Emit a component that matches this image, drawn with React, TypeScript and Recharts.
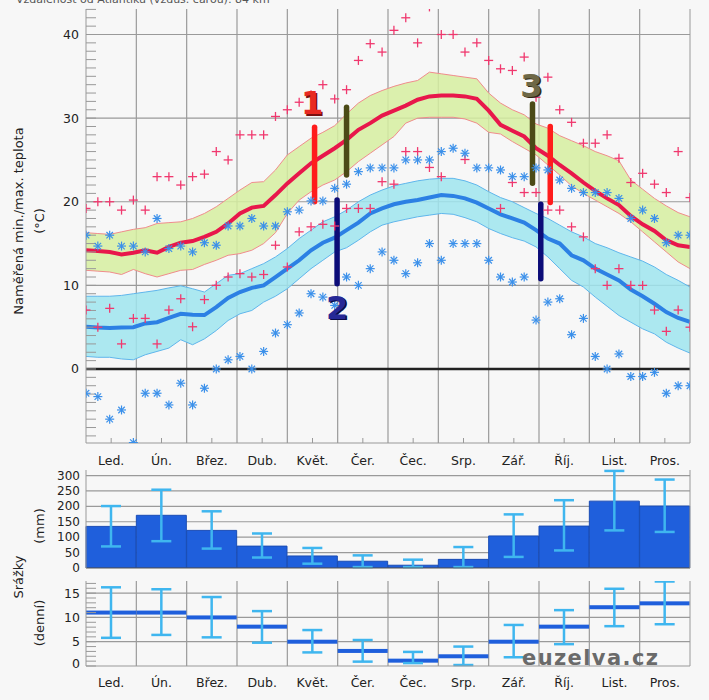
import React from "react";
import {
  Area,
  Bar,
  CartesianGrid,
  ComposedChart,
  ErrorBar,
  Line,
  ReferenceLine,
  Scatter,
  XAxis,
  YAxis,
} from "recharts";

const MONTHS = ["Led.", "Ún.", "Břez.", "Dub.", "Květ.", "Čer.", "Čec.", "Srp.", "Zář.", "Říj.", "List.", "Pros."];

// weekly values (52 weeks), °C
const maxMean = [14.2, 14.1, 14.0, 13.7, 13.9, 14.2, 13.9, 14.6, 15.1, 15.3, 15.8, 16.4, 17.4, 18.6, 19.3, 19.5, 20.8, 22.2, 23.4, 24.6, 25.5, 26.4, 27.4, 28.6, 29.4, 30.3, 30.9, 31.5, 32.2, 32.6, 32.7, 32.7, 32.6, 32.3, 30.9, 29.2, 28.5, 27.8, 26.4, 25.5, 24.4, 23.4, 22.3, 21.3, 20.4, 19.6, 18.3, 17.3, 16.5, 15.4, 14.8, 14.6];
const maxHi = [16.3, 16.2, 16.1, 16.4, 16.7, 16.9, 17.4, 17.5, 17.6, 18.0, 18.6, 19.4, 20.4, 21.4, 22.3, 22.4, 23.8, 25.6, 26.6, 27.6, 28.3, 29.1, 30.5, 31.8, 32.7, 33.3, 33.8, 34.2, 34.5, 35.5, 35.3, 35.1, 34.9, 34.7, 33.0, 31.8, 31.0, 30.4, 29.3, 28.8, 27.9, 27.3, 26.7, 26.0, 25.5, 24.9, 22.6, 21.5, 20.4, 19.5, 18.7, 18.2];
const maxLo = [11.8, 11.7, 11.6, 11.3, 11.9, 11.4, 11.0, 11.4, 11.8, 11.9, 12.5, 13.0, 13.6, 13.8, 14.2, 15.0, 16.3, 18.6, 20.2, 21.2, 22.0, 22.6, 23.6, 24.8, 25.8, 26.8, 27.8, 29.4, 30.0, 30.1, 30.1, 30.1, 29.9, 29.4, 28.3, 28.1, 27.2, 26.4, 25.6, 24.4, 23.2, 21.9, 21.0, 20.2, 19.4, 18.6, 17.6, 16.4, 15.2, 14.0, 12.8, 12.0];
const minMean = [5.05, 4.95, 4.9, 4.95, 5.0, 5.45, 5.6, 6.1, 6.6, 6.5, 6.45, 7.4, 8.5, 9.2, 9.7, 10.0, 11.0, 12.0, 13.0, 14.2, 15.1, 15.7, 16.6, 17.5, 18.6, 19.2, 19.7, 20.0, 20.2, 20.5, 20.8, 20.7, 20.4, 19.9, 19.2, 18.5, 18.0, 17.5, 16.6, 15.6, 15.0, 13.6, 13.0, 12.0, 11.3, 10.6, 9.5, 8.7, 7.8, 6.8, 6.1, 5.65];
const minHi = [8.7, 8.7, 8.7, 8.8, 9.0, 9.2, 9.4, 9.7, 9.95, 9.6, 9.2, 10.2, 11.2, 11.4, 12.0, 12.6, 13.4, 14.4, 15.6, 16.6, 17.6, 18.2, 19.0, 20.0, 20.8, 21.4, 21.9, 22.2, 22.5, 22.7, 22.8, 22.8, 22.5, 22.0, 21.2, 20.5, 20.0, 19.3, 18.6, 18.0, 17.2, 16.4, 15.8, 15.0, 14.5, 13.9, 13.4, 12.9, 12.2, 11.3, 10.6, 9.8];
const minLo = [1.5, 1.4, 1.4, 1.2, 1.1, 1.7, 2.1, 2.5, 3.5, 2.9, 3.6, 4.6, 5.8, 6.6, 7.0, 8.0, 8.7, 9.6, 10.8, 12.0, 13.0, 14.0, 14.5, 15.4, 16.4, 17.2, 17.6, 17.9, 18.2, 18.4, 18.6, 18.5, 18.1, 17.6, 16.8, 16.2, 15.7, 15.3, 14.6, 13.4, 12.0, 10.6, 9.8, 8.6, 7.5, 6.4, 5.6, 4.8, 4.2, 3.2, 2.5, 1.9];

// recorded extremes per week
const maxRecHigh = [19.2, 20.0, 20.0, 19.0, 20.2, 19.0, 23.0, 23.0, 22.0, 23.0, 23.3, 26.0, 25.0, 28.0, 28.0, 28.0, 30.2, 31.0, 31.9, 32.8, 34.0, 32.3, 33.4, 36.9, 38.9, 37.9, 40.5, 42.0, 39.0, 43.3, 40.0, 40.0, 37.9, 39.0, 36.9, 35.9, 35.7, 37.3, 32.5, 34.9, 31.0, 29.5, 27.0, 27.0, 28.0, 25.2, 22.3, 23.4, 22.1, 21.1, 26.0, 20.5];
const maxRecLow = [7.05, 5.0, 7.25, 3.0, 6.05, 6.05, 3.0, 7.05, 8.4, 5.05, 8.3, 10.0, 11.0, 11.4, 11.0, 11.3, 14.8, 12.2, 16.4, 17.0, 17.3, 17.1, 19.2, 19.2, 19.2, 22.4, 22.1, 26.0, 26.0, 24.1, 23.0, null, 25.05, null, null, 19.2, 22.3, 21.1, 21.1, 19.0, 19.0, 17.0, 15.8, 12.0, 10.0, 12.0, 10.0, 10.0, 7.05, 4.5, 7.05, 5.0];
const minRecHigh = [16.0, 14.7, 16.0, 14.7, 14.7, 14.0, 18.0, 14.4, 14.7, 14.0, 15.1, 14.8, 17.1, 17.1, 18.0, 17.1, 17.1, 18.8, 19.0, 20.1, 20.1, 21.6, 22.1, 23.6, 24.05, 24.05, 24.05, 25.0, 25.0, 25.0, 26.0, 26.4, 25.8, 24.05, 24.05, 23.8, 23.0, 23.0, 24.05, 23.8, 22.6, 21.6, 21.1, 21.1, 21.1, 20.4, 18.0, 19.0, 18.0, 15.1, 16.0, 16.0];
const minRecLow = [-2.9, -3.3, -6.0, -4.9, -8.8, -2.9, -2.9, -4.3, -1.7, -4.3, -2.3, 0.0, 1.1, 1.5, 0.0, 2.1, 4.3, 5.3, 6.7, 9.0, 8.6, 7.6, 11.0, 10.0, 12.0, 14.0, 13.0, 11.4, 12.7, 15.0, 13.0, 15.0, 15.0, 15.0, 13.0, 11.0, 10.4, 11.0, 5.85, 8.0, 8.4, 4.1, 6.05, 1.5, 0.0, 1.8, -0.9, -0.9, -0.4, -2.9, -2.0, -2.0];

// monthly precipitation (mm) and daily precipitation
const precipMm = [135, 171, 122, 71, 39, 22, 9, 28, 104, 136, 217, 201];
const precipMmLo = [70, 87, 63, 34, 14, 3, 3, 3, 36, 57, 122, 117];
const precipMmHi = [201, 254, 184, 112, 65, 41, 27, 68, 174, 220, 315, 287];
const precipDay = [11.0, 11.0, 10.0, 8.1, 5.0, 3.1, 1.1, 2.0, 5.0, 8.1, 12.1, 12.9];
const precipDayLo = [5.8, 6.4, 5.9, 4.8, 2.8, 0.9, 0.6, 0.2, 1.8, 4.5, 8.2, 8.6];
const precipDayHi = [16.2, 15.8, 14.2, 11.3, 7.4, 5.35, 2.9, 4.0, 8.45, 11.5, 15.9, 17.4];
const mmTicks = [0, 50, 100, 150, 200, 250, 300];

// hand-drawn annotations (week, °C)
const annoBars = [
  { w: 19.3, from: 20.0, to: 28.9, kind: "red" },
  { w: 22.0, from: 23.2, to: 31.3, kind: "olive" },
  { w: 21.2, from: 10.2, to: 20.2, kind: "navy" },
  { w: 37.7, from: 22.2, to: 31.7, kind: "olive" },
  { w: 39.2, from: 19.9, to: 29.0, kind: "red" },
  { w: 38.4, from: 10.8, to: 19.7, kind: "navy" },
];
const annoLabels = [
  { w: 19.1, t: 31.8, text: "1", kind: "red" },
  { w: 21.2, t: 7.3, text: "2", kind: "navy" },
  { w: 37.6, t: 33.9, text: "3", kind: "olive" },
];

const ANNO_COLOR: Record<string, string> = { red: "#ff1c1c", olive: "#4b4a16", navy: "#0c0c78" };
const ANNO_TEXT: Record<string, [string, string]> = {
  red: ["#e82a22", "#7a1010"],
  navy: ["#262896", "#0a0a45"],
  olive: ["#6e6846", "#2e2a14"],
};

const BG = "#f7f7f7";
const GRID = "#9a9a9a";
const AXIS = "#999";
const TXT = "#222";
const FONT = "'DejaVu Sans', sans-serif";
const W = 709;
const LAST_WEEK = 51;

const monthCenters = MONTHS.map((_, i) => ((i + 0.5) * LAST_WEEK) / 12);
const monthEdges = MONTHS.slice(1).map((_, i) => ((i + 1) * LAST_WEEK) / 12);
const tempTicks = Array.from({ length: 52 }, (_, i) => i - 8);
const dayTicks = Array.from({ length: 18 }, (_, i) => i);

const tempRows = maxMean.map((_, w) => ({
  w,
  maxMean: maxMean[w],
  maxBand: [maxLo[w], maxHi[w]],
  minMean: minMean[w],
  minBand: [minLo[w], minHi[w]],
}));

const points = (arr: (number | null)[]) =>
  arr.map((t, w) => ({ w, t })).filter((p) => p.t != null);

const monthRows = MONTHS.map((name, i) => ({
  m: i + 0.5,
  name,
  mm: precipMm[i],
  mmErr: [precipMm[i] - precipMmLo[i], precipMmHi[i] - precipMm[i]],
  day: precipDay[i],
  dayErr: [precipDay[i] - precipDayLo[i], precipDayHi[i] - precipDay[i]],
}));

function PlusMark(props: any) {
  const { cx, cy } = props;
  if (cx == null || cy == null) return null;
  const r = 4.5;
  return (
    <g stroke="#f0386e" strokeWidth={1.3}>
      <line x1={cx - r} y1={cy} x2={cx + r} y2={cy} />
      <line x1={cx} y1={cy - r} x2={cx} y2={cy + r} />
    </g>
  );
}

function StarMark(props: any) {
  const { cx, cy } = props;
  if (cx == null || cy == null) return null;
  const r = 4.5;
  const d = r * 0.72;
  return (
    <g stroke="#3b90ea" strokeWidth={1.2}>
      <line x1={cx - r} y1={cy} x2={cx + r} y2={cy} />
      <line x1={cx} y1={cy - r} x2={cx} y2={cy + r} />
      <line x1={cx - d} y1={cy - d} x2={cx + d} y2={cy + d} />
      <line x1={cx - d} y1={cy + d} x2={cx + d} y2={cy - d} />
    </g>
  );
}

function AnnoText(props: any) {
  const { cx, cy, payload } = props;
  if (cx == null || cy == null) return null;
  const [fill, shade] = ANNO_TEXT[payload.kind];
  const common = {
    textAnchor: "middle" as const,
    dominantBaseline: "central" as const,
    fontFamily: FONT,
    fontWeight: 700,
    fontSize: 32,
  };
  return (
    <g>
      <text x={cx + 1.5} y={cy + 1.5} fill={shade} {...common}>{payload.text}</text>
      <text x={cx} y={cy} fill={fill} {...common}>{payload.text}</text>
    </g>
  );
}

// y tick label drawn only on the labelled steps; the zero label may sit a bit higher
function StepTick(props: any) {
  const { x, y, payload, every, size, lift } = props;
  const v = payload.value;
  if (v % every !== 0) return null;
  return (
    <text x={x} y={v === 0 ? y - lift : y} textAnchor="end" dominantBaseline="central" fontFamily={FONT} fontSize={size} fill={TXT}>
      {v}
    </text>
  );
}

function DayLine(props: any) {
  const { x, y, width } = props;
  if (x == null || y == null) return null;
  return <rect x={x} y={y - 2} width={width} height={4} fill="#1f5fdc" />;
}

function TempChart() {
  return (
    <ComposedChart width={W} height={470} data={tempRows} margin={{ top: 9, right: 0, bottom: 0, left: 0 }}>
      <CartesianGrid yAxisId="l" horizontalValues={[10, 20, 30, 40]} verticalValues={monthEdges} stroke={GRID} strokeWidth={1.2} />
      <XAxis
        type="number"
        dataKey="w"
        domain={[0, LAST_WEEK]}
        allowDataOverflow
        ticks={monthCenters}
        interval={0}
        tickFormatter={(_v: number, i: number) => MONTHS[i]}
        tickSize={-5}
        tickMargin={18}
        height={27}
        stroke={AXIS}
        tick={{ fill: TXT, fontSize: 12.5 }}
      />
      <YAxis
        yAxisId="l"
        type="number"
        domain={[-8.85, 43.05]}
        allowDataOverflow
        ticks={tempTicks}
        interval={0}
        tickFormatter={(v: number) => (v % 10 === 0 ? String(v) : "")}
        tickSize={-10}
        tickMargin={17}
        width={86}
        stroke={AXIS}
        tick={{ fill: TXT, fontSize: 12.5 }}
      />
      <YAxis
        yAxisId="r"
        orientation="right"
        type="number"
        domain={[-8.85, 43.05]}
        allowDataOverflow
        ticks={tempTicks}
        interval={0}
        tick={false}
        tickSize={-8}
        width={19}
        stroke={AXIS}
      />
      <Area yAxisId="l" type="linear" dataKey="maxBand" fill="#d6eea0" fillOpacity={0.85} stroke="#f08c8c" strokeWidth={1} isAnimationActive={false} />
      <Area yAxisId="l" type="linear" dataKey="minBand" fill="#9fe5ef" fillOpacity={0.85} stroke="#5fb6ec" strokeWidth={1} isAnimationActive={false} />
      <ReferenceLine yAxisId="l" y={0} stroke="#222" strokeWidth={2.5} />
      <Line yAxisId="l" type="linear" dataKey="maxMean" stroke="#e8174b" strokeWidth={4} dot={false} isAnimationActive={false} />
      <Line yAxisId="l" type="linear" dataKey="minMean" stroke="#2c80e4" strokeWidth={4} dot={false} isAnimationActive={false} />
      <Scatter yAxisId="l" data={points(maxRecHigh)} dataKey="t" shape={PlusMark} isAnimationActive={false} />
      <Scatter yAxisId="l" data={points(maxRecLow)} dataKey="t" shape={PlusMark} isAnimationActive={false} />
      <Scatter yAxisId="l" data={points(minRecHigh)} dataKey="t" shape={StarMark} isAnimationActive={false} />
      <Scatter yAxisId="l" data={points(minRecLow)} dataKey="t" shape={StarMark} isAnimationActive={false} />
      {annoBars.map((b, i) => (
        <ReferenceLine
          key={i}
          yAxisId="l"
          segment={[{ x: b.w, y: b.from }, { x: b.w, y: b.to }]}
          stroke={ANNO_COLOR[b.kind]}
          strokeWidth={5.5}
          strokeLinecap="round"
        />
      ))}
      <Scatter yAxisId="l" data={annoLabels} dataKey="t" shape={AnnoText} isAnimationActive={false} />
    </ComposedChart>
  );
}

function MonthChart() {
  return (
    <ComposedChart width={W} height={118} data={monthRows} margin={{ top: 11, right: 0, bottom: 8, left: 0 }} barCategoryGap={0} barGap={0}>
      <CartesianGrid horizontalValues={[50, 100, 150, 200, 250, 300]} verticalValues={[1, 2, 3, 4, 5, 6, 7, 8, 9, 10, 11]} stroke={GRID} strokeWidth={1.2} />
      <XAxis type="number" dataKey="m" domain={[0, 12]} ticks={monthRows.map((r) => r.m)} interval={0} tick={false} tickLine={false} height={1} stroke="#555" />
      <YAxis
        type="number"
        domain={[0, 318]}
        allowDataOverflow
        ticks={mmTicks}
        interval={0}
        tickLine={false}
        tickSize={0}
        tickMargin={6}
        width={86}
        stroke={AXIS}
        tick={<StepTick every={50} size={12} lift={0} />}
      />
      <YAxis yAxisId="r" orientation="right" domain={[0, 318]} tick={false} tickLine={false} width={19} stroke={AXIS} />
      <Bar dataKey="mm" fill="#1f5fdc" stroke="#1a4cb4" strokeWidth={1} isAnimationActive={false}>
        <ErrorBar dataKey="mmErr" direction="y" width={10} stroke="#3fb6ef" strokeWidth={2.5} />
      </Bar>
    </ComposedChart>
  );
}

function DailyChart() {
  return (
    <ComposedChart width={W} height={115} data={monthRows} margin={{ top: 0, right: 0, bottom: 0, left: 0 }} barCategoryGap={0} barGap={0}>
      <CartesianGrid horizontalValues={[5, 10, 15]} verticalValues={[1, 2, 3, 4, 5, 6, 7, 8, 9, 10, 11]} stroke={GRID} strokeWidth={1.2} />
      <XAxis
        type="number"
        dataKey="m"
        domain={[0, 12]}
        ticks={monthRows.map((r) => r.m)}
        interval={0}
        tickFormatter={(_v: number, i: number) => MONTHS[i]}
        tickLine={false}
        tickSize={0}
        tickMargin={12}
        height={30}
        stroke={AXIS}
        tick={{ fill: TXT, fontSize: 12.5 }}
      />
      <YAxis
        type="number"
        domain={[0, 17.5]}
        allowDataOverflow
        ticks={dayTicks}
        interval={0}
        tickSize={-10}
        tickMargin={16}
        width={86}
        stroke={AXIS}
        tick={<StepTick every={5} size={12.5} lift={3} />}
      />
      <YAxis yAxisId="r" orientation="right" domain={[0, 17.5]} ticks={dayTicks} interval={0} tick={false} tickSize={-8} width={19} stroke={AXIS} />
      <Bar dataKey="day" shape={DayLine} isAnimationActive={false}>
        <ErrorBar dataKey="dayErr" direction="y" width={10} stroke="#3fb6ef" strokeWidth={2.5} />
      </Bar>
    </ComposedChart>
  );
}

function Titles() {
  const t = { fontFamily: FONT, fontSize: 13, fill: TXT, textAnchor: "middle" as const, dominantBaseline: "central" as const };
  return (
    <svg width={W} height={700} style={{ position: "absolute", left: 0, top: 0, pointerEvents: "none" }}>
      <text x={16} y={3} fontFamily={FONT} fontSize={11} fill="#555">Vzdálenost od Atlantiku (vzduš. čarou): 84 km</text>
      <text transform="translate(18.5,221) rotate(-90)" {...t}>Naměřená min./max. teplota</text>
      <text transform="translate(39,221) rotate(-90)" {...t}>(°C)</text>
      <text transform="translate(18.5,577) rotate(-90)" {...t}>Srážky</text>
      <text transform="translate(39,526) rotate(-90)" {...t}>(mm)</text>
      <text transform="translate(39,623) rotate(-90)" {...t}>(denní)</text>
      <text x={522} y={665} fontFamily={FONT} fontWeight={700} fontSize={21} letterSpacing={1.4} fill="#6a6a6a">euzelva.cz</text>
    </svg>
  );
}

export default function App() {
  return (
    <div style={{ position: "absolute", left: 0, top: 0, width: W, height: 700, background: BG, fontFamily: FONT, overflow: "hidden" }}>
      <div style={{ position: "absolute", left: 0, top: 0 }}>
        <TempChart />
      </div>
      <div style={{ position: "absolute", left: 0, top: 459 }}>
        <MonthChart />
      </div>
      <div style={{ position: "absolute", left: 0, top: 581 }}>
        <DailyChart />
      </div>
      <Titles />
    </div>
  );
}
